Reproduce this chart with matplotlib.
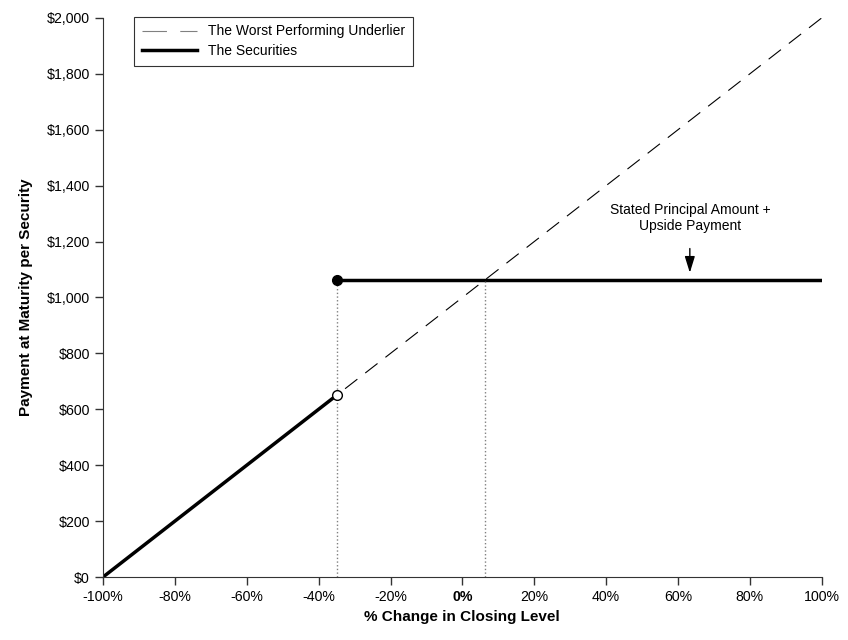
import matplotlib.pyplot as plt
from matplotlib.ticker import FuncFormatter

plt.rcParams['font.family'] = ['Liberation Sans', 'DejaVu Sans']

# data
underlier_x = [-100, 100]
underlier_y = [0, 2000]
barrier = -35
barrier_pay = 650
upside_level = 1063.5
upside_x = 6.35
sec_low_x = [-100, barrier]
sec_low_y = [0, barrier_pay]
sec_high_x = [barrier, 100]
sec_high_y = [upside_level, upside_level]
xticks = list(range(-100, 101, 20))
yticks = list(range(0, 2001, 200))

fig = plt.figure(figsize=(8.48, 6.4), dpi=100)
ax = fig.add_axes([0.1215, 0.0984, 0.8475, 0.8736])

ax.plot(underlier_x, underlier_y, color='black', lw=0.8, dashes=(14, 9),
        label='The Worst Performing Underlier')
ax.plot(sec_low_x, sec_low_y, color='black', lw=2.5, label='The Securities')
ax.plot(sec_high_x, sec_high_y, color='black', lw=2.5)

ax.plot([barrier, barrier], [0, upside_level], color='gray', lw=1, ls=':')
ax.plot([upside_x, upside_x], [0, upside_level], color='gray', lw=1, ls=':')

ax.plot(barrier, upside_level, 'o', color='black', ms=7, zorder=5)
ax.plot(barrier, barrier_pay, 'o', mfc='white', mec='black', ms=7, mew=1, zorder=5)

ax.annotate('', xy=(63.3, upside_level + 15), xytext=(63.3, 1185),
            arrowprops=dict(arrowstyle='-|>,head_length=0.55,head_width=0.17',
                            color='black', lw=1, mutation_scale=18))
ax.text(63.3, 1230, 'Stated Principal Amount +\nUpside Payment', ha='center', va='bottom',
        fontsize=10, linespacing=1.2)

ax.set_xlim(-100, 100)
ax.set_ylim(0, 2000)
ax.set_xticks(xticks)
ax.set_yticks(yticks)
ax.xaxis.set_major_formatter(FuncFormatter(lambda v, p: f'{int(v)}%'))
ax.yaxis.set_major_formatter(FuncFormatter(lambda v, p: f'${int(v):,}'))
ax.tick_params(labelsize=10.2, length=6, width=1, direction='out', color='#333333')
for lab in ax.get_xticklabels():
    if lab.get_text() == '0%':
        lab.set_fontweight('bold')

for s in ['top', 'right']:
    ax.spines[s].set_visible(False)
for s in ['left', 'bottom']:
    ax.spines[s].set_color('#333333')

ax.set_xlabel('% Change in Closing Level', fontsize=11, fontweight='bold', labelpad=4)
ax.set_ylabel('Payment at Maturity per Security', fontsize=11, fontweight='bold', labelpad=10)

leg = ax.legend(loc='upper left', bbox_to_anchor=(0.043, 1.002), fontsize=10, frameon=True,
                fancybox=False, edgecolor='black', handlelength=4.0, borderpad=0.55,
                labelspacing=0.4, borderaxespad=0)
leg.get_frame().set_linewidth(0.8)
leg.get_lines()[0].set_color('gray')
leg.get_lines()[0].set_dashes((22, 12))

fig.savefig('out.png', dpi=100)
